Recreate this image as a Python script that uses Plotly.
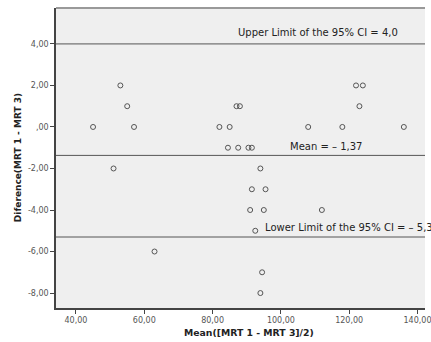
import plotly.graph_objects as go

mean_vals = [45, 53, 55, 57, 51, 63, 82, 85, 108, 118, 136,
             87, 88, 123, 122, 124, 84.5, 87.5, 90.5, 91.5, 94,
             91.5, 95.5, 91, 95, 112, 92.5, 94.5, 94]
diff_vals = [0, 2, 1, 0, -2, -6, 0, 0, 0, 0, 0,
             1, 1, 1, 2, 2, -1, -1, -1, -1, -2,
             -3, -3, -4, -4, -4, -5, -7, -8]

upper_limit = 4.0
mean_diff = -1.37
lower_limit = -5.3

x_ticks = [40, 60, 80, 100, 120, 140]
x_tick_text = ["40,00", "60,00", "80,00", "100,00", "120,00", "140,00"]
y_ticks = [4, 2, 0, -2, -4, -6, -8]
y_tick_text = ["4,00", "2,00", ",00", "-2,00", "-4,00", "-6,00", "-8,00"]

upper_label = "Upper Limit of the 95% CI = 4,0"
mean_label = "Mean = \u2013 1,37"
lower_label = "Lower Limit of the 95% CI = \u2013 5,30"
x_title = "Mean([MRT 1 - MRT 3]/2)"
y_title = "Diference(MRT 1 - MRT 3)"

font = "DejaVu Sans"
line_col = "#555555"

fig = go.Figure()
fig.add_trace(go.Scatter(
    x=mean_vals, y=diff_vals, mode="markers",
    marker=dict(symbol="circle-open", size=5, color="#555555", line=dict(width=1)),
    showlegend=False, hoverinfo="skip"))

for v in [upper_limit, mean_diff, lower_limit]:
    fig.add_shape(type="line", xref="paper", x0=0, x1=1, yref="y", y0=v, y1=v,
                  line=dict(color=line_col, width=1))
# top border
fig.add_shape(type="line", xref="paper", x0=0, x1=1, yref="paper", y0=1, y1=1,
              line=dict(color="#999999", width=2))

ann_font = dict(family=font, size=10, color="#222222")
fig.add_annotation(x=111, y=upper_limit, xref="x", yref="y", text=upper_label,
                   showarrow=False, font=ann_font, xanchor="center", yanchor="middle", yshift=11)
fig.add_annotation(x=102.2, y=mean_diff, xref="x", yref="y", text=mean_label,
                   showarrow=False, font=ann_font, xanchor="left", yanchor="middle", yshift=9)
fig.add_annotation(x=94.7, y=lower_limit, xref="x", yref="y", text=lower_label,
                   showarrow=False, font=ann_font, xanchor="left", yanchor="middle", yshift=10)

fig.add_annotation(x=90.6, y=-0.083, xref="x", yref="paper", text="<b>" + x_title + "</b>",
                   showarrow=False, font=dict(family=font, size=9.3, color="#222222"),
                   xanchor="center", yanchor="middle")
fig.add_annotation(x=-0.101, y=0.502, xref="paper", yref="paper", text="<b>" + y_title + "</b>",
                   showarrow=False, textangle=-90, font=dict(family=font, size=9, color="#222222"),
                   xanchor="center", yanchor="middle")

fig.update_xaxes(range=[34.15, 142.2], tickvals=x_ticks, ticktext=x_tick_text,
                 showgrid=False, zeroline=False, showline=True, linecolor="#444444", linewidth=1.5,
                 ticks="outside", ticklen=4, tickcolor="#444444", ticklabeloverflow="allow",
                 tickfont=dict(family=font, size=8, color="#555555"))
fig.update_yaxes(range=[-8.72, 5.73], tickvals=y_ticks, ticktext=y_tick_text,
                 showgrid=False, zeroline=False, showline=True, linecolor="#444444", linewidth=1.5,
                 ticks="outside", ticklen=4, tickcolor="#444444", ticklabeloverflow="allow",
                 tickfont=dict(family=font, size=8, color="#555555"))

fig.update_layout(width=431, height=342, margin=dict(l=56, r=0, t=8, b=34),
                  plot_bgcolor="#efefef", paper_bgcolor="white")
fig.write_html("out.html", config={"displayModeBar": False},
               post_script="document.body.style.margin='0';document.body.style.overflow='hidden';")
